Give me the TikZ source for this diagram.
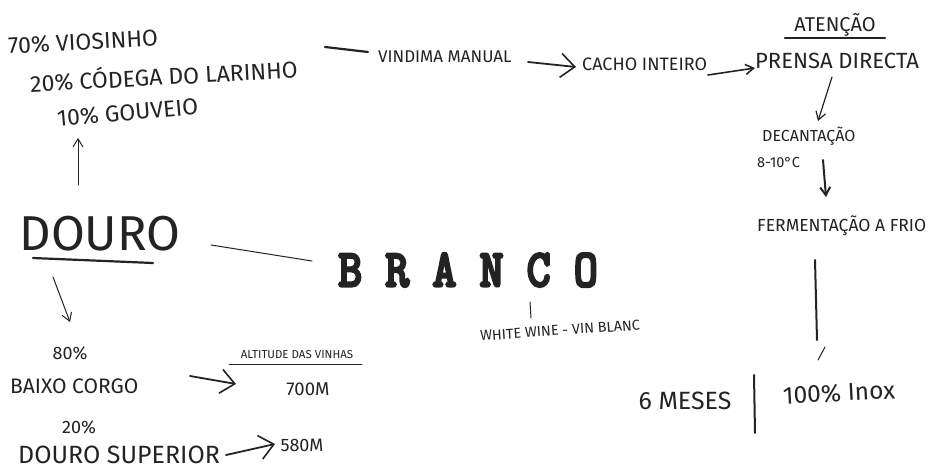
\documentclass[tikz,border=0pt]{standalone}
\usepackage{fontspec}
\setmainfont{Fira Sans}
\newfontfamily\typefont[FakeBold=6]{Latin Modern Mono}
\usetikzlibrary{arrows.meta}
\definecolor{ink}{RGB}{35,35,35}
\begin{document}
\begin{tikzpicture}[x=1pt,y=-1pt,
  lbl/.style={inner sep=0pt, text=ink, font=\fontsize{#1}{#1}\selectfont},
  pen/.style={draw=ink, line width=1pt, line cap=round},
  thick pen/.style={draw=ink, line width=2.2pt, line cap=round},
  arr/.style={pen, -{Straight Barb[length=8pt,width=10pt]}},
  bigarr/.style={draw=ink, line width=1.8pt, line cap=round, -{Straight Barb[length=14pt,width=24pt,line width=1.6pt]}}]
\useasboundingbox (0,0) rectangle (928,470);

% grape varieties
\node[lbl=23, anchor=west, rotate=3] (v1) at (8,46) {70\% VIOSINHO};
\node[lbl=23, anchor=west, rotate=3] (v2) at (30,82) {20\% CÓDEGA DO LARINHO};
\node[lbl=23, anchor=west, rotate=5] (v3) at (57,119) {10\% GOUVEIO};

% DOURO
\node[lbl=49] (douro) at (100,234) {DOURO};
\coordinate (du1) at (33,258); \coordinate (du2) at (153,263);
\draw[thick pen] (du1) -- (du2);
\coordinate (up1) at (78,185); \coordinate (up2) at (78,138);
\draw[arr] (up1) -- (up2);
\coordinate (dn1) at (53,277); \coordinate (dn2) at (70,322);
\draw[arr] (dn1) -- (dn2);

% BRANCO
\node[inner sep=0pt, text=ink] (branco) at (468,270) {\scalebox{0.88}[1]{\typefont\fontsize{52}{52}\selectfont B R A N C O}};
\coordinate (db1) at (211,245); \coordinate (db2) at (312,261);
\draw[pen] (db1) -- (db2);
\coordinate (tk1) at (530,302); \coordinate (tk2) at (531,318);
\draw[pen] (tk1) -- (tk2);
\node[lbl=14.4, anchor=west, rotate=4] (white) at (480,336) {WHITE WINE - VIN BLANC};

% regions
\node[lbl=18] (p80) at (70,353) {80\%};
\node[lbl=21, anchor=west] (baixo) at (10,386) {BAIXO CORGO};
\node[lbl=11.5] (alt) at (297,355) {ALTITUDE DAS VINHAS};
\coordinate (al1) at (229,364); \coordinate (al2) at (362,364);
\draw[pen, line width=0.8pt] (al1) -- (al2);
\node[lbl=18.5] (m700) at (308,389) {700M};
\coordinate (ba1) at (190,376); \coordinate (ba2) at (236,384);
\draw[bigarr] (ba1) -- (ba2);
\node[lbl=18] (p20) at (79,427) {20\%};
\node[lbl=25, anchor=west] (sup) at (18,455) {DOURO SUPERIOR};
\node[lbl=18] (m580) at (302,445) {580M};
\coordinate (su1) at (226,455); \coordinate (su2) at (275,444);
\draw[bigarr] (su1) -- (su2);

% top flow
\coordinate (vm1) at (325,47); \coordinate (vm2) at (368,52);
\draw[thick pen] (vm1) -- (vm2);
\node[lbl=17, anchor=west] (vind) at (378,57) {VINDIMA MANUAL};
\coordinate (ca1) at (528,62); \coordinate (ca2) at (576,67);
\draw[bigarr] (ca1) -- (ca2);
\node[lbl=18, anchor=west] (cacho) at (582,64) {CACHO INTEIRO};
\coordinate (pr1) at (708,75); \coordinate (pr2) at (755,68);
\draw[arr, line width=1.6pt] (pr1) -- (pr2);
\node[lbl=22, anchor=west] (prensa) at (755,61) {PRENSA DIRECTA};
\node[lbl=20] (aten) at (835,25) {ATENÇÃO};
\coordinate (at1) at (785,38); \coordinate (at2) at (885,38);
\draw[thick pen] (at1) -- (at2);
\coordinate (de1) at (832,77); \coordinate (de2) at (818,121);
\draw[arr, line width=1.2pt] (de1) -- (de2);
\node[lbl=16, anchor=west] (decan) at (762,136) {DECANTAÇÃO};
\node[lbl=14.5, anchor=west] (temp) at (757,163) {8-10°C};
\coordinate (fe1) at (823,160); \coordinate (fe2) at (826,197);
\draw[arr, line width=2pt] (fe1) -- (fe2);
\node[lbl=17.5, anchor=west] (ferm) at (757,226) {FERMENTAÇÃO A FRIO};
\coordinate (ix1) at (815,260); \coordinate (ix2) at (817,340);
\draw[pen, line width=2pt] (ix1) -- (ix2);
\coordinate (sl1) at (818,360); \coordinate (sl2) at (825,347);
\draw[pen] (sl1) -- (sl2);

% bottom right
\node[lbl=25] (meses) at (685,401) {6 MESES};
\coordinate (bar1) at (754,375); \coordinate (bar2) at (755,433);
\draw[pen, line width=2pt] (bar1) -- (bar2);
\node[lbl=24.5, rotate=3] (inox) at (839,393) {100\% Inox};
\end{tikzpicture}
\end{document}
